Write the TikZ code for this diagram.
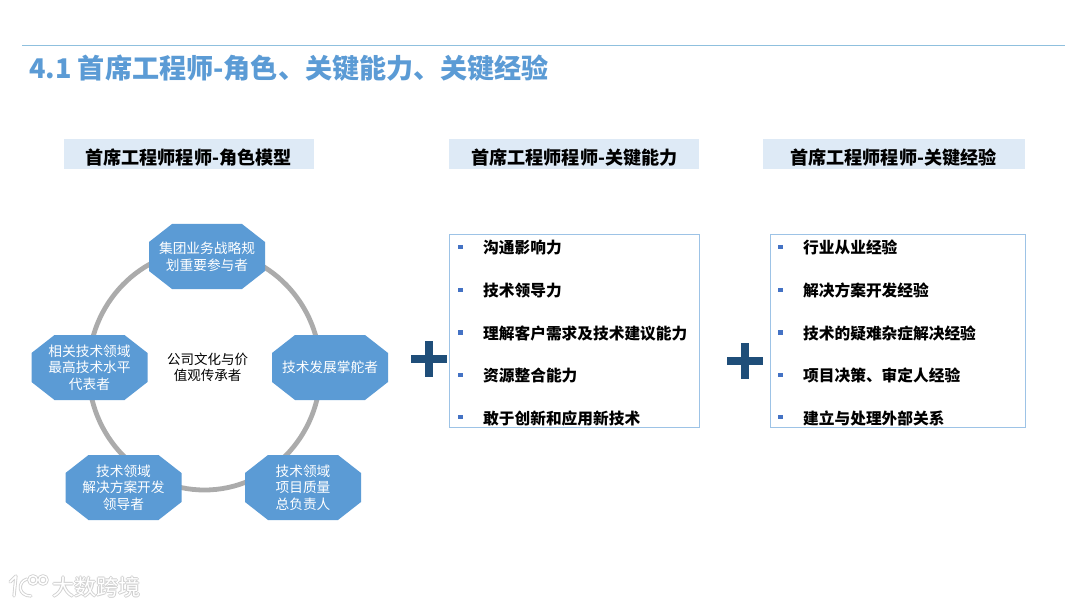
\documentclass[tikz,border=0pt]{standalone}
\usepackage{fontspec}
\setmainfont{Noto Sans CJK SC}
\definecolor{titleblue}{HTML}{5B9BD5}
\definecolor{rulecol}{HTML}{8FC0DE}
\definecolor{headfill}{HTML}{DEEAF6}
\definecolor{boxline}{HTML}{9DC3E6}
\definecolor{octfill}{HTML}{5B9BD5}
\definecolor{ringcol}{HTML}{ABABAB}
\definecolor{pluscol}{HTML}{1F4E79}
\definecolor{bulletcol}{HTML}{4472C4}
\definecolor{wmedge}{HTML}{D0D0D0}
\tikzset{
  x=1pt,y=-1pt,
  headbox/.style={fill=headfill,minimum height=30pt,inner sep=0pt},
  headtext/.style={inner sep=0pt,text=black,font=\fontsize{18.1}{20}\selectfont\bfseries},
  listbox/.style={draw=boxline,line width=0.9pt,fill=white,minimum height=192.5pt,inner sep=0pt},
  listtext/.style={anchor=west,inner sep=0pt,text=black,font=\fontsize{15.7}{18}\selectfont\bfseries},
  bulletdot/.style={fill=bulletcol,minimum size=4.6pt,inner sep=0pt},
  octtext/.style={align=center,text=white,inner sep=0pt,font=\fontsize{13.7}{16.6}\selectfont},
  plusbar/.style={fill=pluscol},
  wmtext/.style={anchor=west,inner sep=0pt,font=\fontsize{22}{24}\selectfont},
}
% \octnode{name}{left}{top}{label}: octagon 116x65 with its label
\newcommand{\octnode}[4]{%
  \fill[octfill] (#2+23,#3) -- (#2+93,#3) -- (#2+116,#3+18) -- (#2+116,#3+47)
    -- (#2+93,#3+65) -- (#2+23,#3+65) -- (#2,#3+47) -- (#2,#3+18) -- cycle;
  \node[octtext] (#1) at (#2+58,#3+32.5) {#4};
}
\newcommand{\plusmark}[3]{%
  \fill[plusbar] (#2-18,#3-4) rectangle (#2+18,#3+4);
  \fill[plusbar] (#2-4,#3-18) rectangle (#2+4,#3+18);
  \coordinate (#1) at (#2,#3);
}
\newcommand{\listrow}[4]{% bulletx, textx, y, text
  \node[bulletdot] at (#1,#3-0.2) {};
  \node[listtext] at (#2,#3+0.8) {#4};
}
\begin{document}
\begin{tikzpicture}
\useasboundingbox (0,0) rectangle (1080,607);
\fill[white] (0,0) rectangle (1080,607);
% title
\draw[rulecol,line width=1pt] (22,45.5) -- (1065,45.5);
\node[anchor=west,inner sep=0pt,text=titleblue,font=\fontsize{27.1}{30}\selectfont\bfseries] (title) at (29,68) {4.1 首席工程师-角色、关键能力、关键经验};
% headers
\node[headbox,minimum width=250pt] (h1) at (189,154) {};
\node[headbox,minimum width=250pt] (h2) at (574,154) {};
\node[headbox,minimum width=262pt] (h3) at (894,154) {};
\node[headtext] (t1) at (188.5,158) {首席工程师程师-角色模型};
\node[headtext] (t2) at (574.5,158) {首席工程师程师-关键能力};
\node[headtext] (t3) at (893.5,158) {首席工程师程师-关键经验};
% ring
\draw[ringcol,line width=4.8pt] (204.5,370) ellipse [x radius=116, y radius=120];
\octnode{n1}{149}{224}{集团业务战略规\\划重要参与者}
\octnode{n2}{272}{335}{技术发展掌舵者}
\octnode{n3}{245}{455}{技术领域\\项目质量\\总负责人}
\octnode{n4}{65.5}{455}{技术领域\\解决方案开发\\领导者}
\octnode{n5}{31.5}{335}{相关技术领域\\最高技术水平\\代表者}
\node[align=center,inner sep=0pt,text=black,font=\fontsize{13.5}{16}\selectfont] (core) at (207.5,367) {公司文化与价\\值观传承者};
% plus signs
\plusmark{p1}{429.3}{359.3}
\plusmark{p2}{745}{360.7}
% list boxes
\node[listbox,minimum width=250pt] (b1) at (574,330.7) {};
\node[listbox,minimum width=255pt] (b2) at (897.5,330.7) {};
\listrow{460.5}{483}{247}{沟通影响力}
\listrow{460.5}{483}{290}{技术领导力}
\listrow{460.5}{483}{332.7}{理解客户需求及技术建议能力}
\listrow{460.5}{483}{375}{资源整合能力}
\listrow{460.5}{483}{417.3}{敢于创新和应用新技术}
\listrow{780.7}{803}{247}{行业从业经验}
\listrow{780.7}{803}{290}{解决方案开发经验}
\listrow{780.7}{803}{332.7}{技术的疑难杂症解决经验}
\listrow{780.7}{803}{375}{项目决策、审定人经验}
\listrow{780.7}{803}{417.3}{建立与处理外部关系}
% watermark: white marks with a soft grey edge
\foreach \c/\w in {wmedge/3.2pt,white/1.5pt}{
  \begin{scope}[draw=\c,line width=\w,line cap=round,line join=round]
    \draw (10,582) -- (16,576) -- (14,596);
    \draw (27,579) .. controls (17,582) and (18,596) .. (31,596);
    \draw (33,580) circle (4.2);
    \draw (43,580) circle (4.2);
  \end{scope}
}
\foreach \dx/\dy in {-0.8/0,0.8/0,0/-0.8,0/0.8}{
  \node[wmtext,text=wmedge] at (52+\dx,587+\dy) {大数跨境};
}
\node[wmtext,text=white] (wm) at (52,587) {大数跨境};
\end{tikzpicture}
\end{document}
